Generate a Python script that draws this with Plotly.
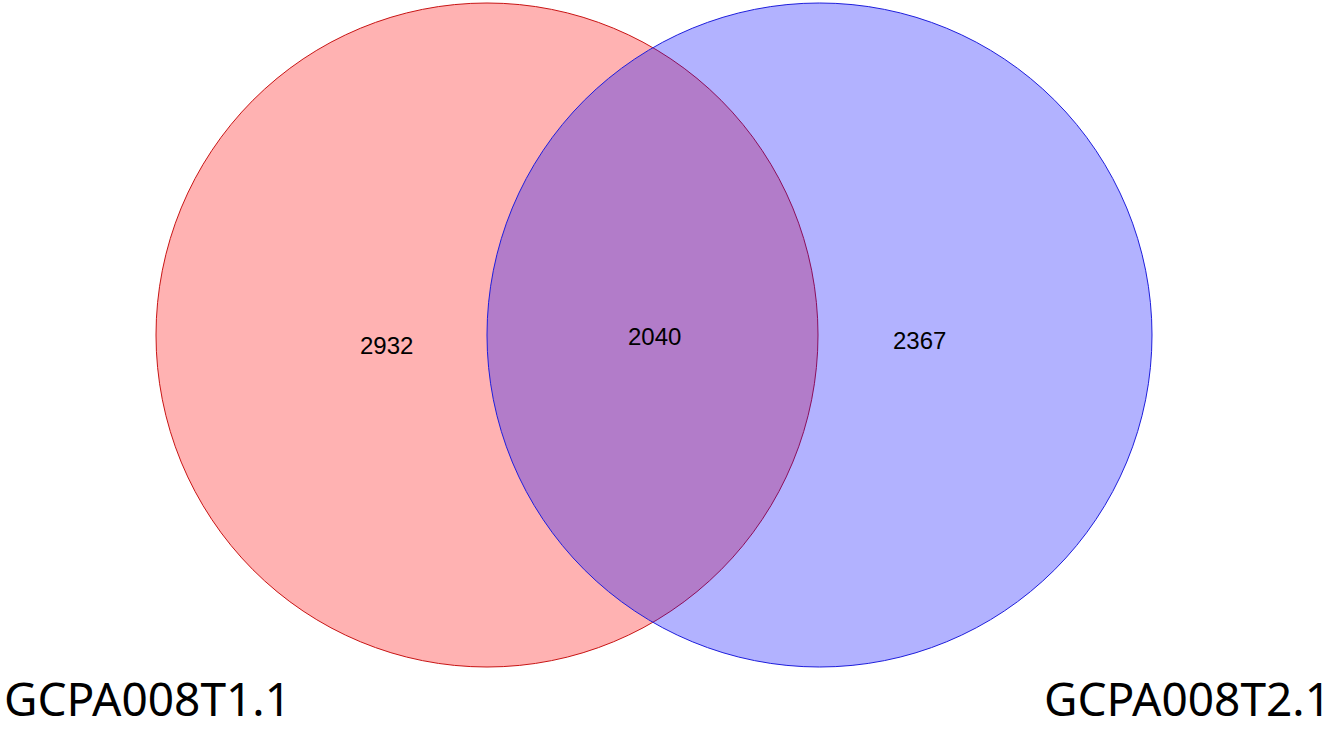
import plotly.graph_objects as go

# Data
set_names = ["GCPA008T1.1", "GCPA008T2.1"]
region_labels = ["only_T1", "both", "only_T2"]
region_counts = [2932, 2040, 2367]

# Layout geometry (pixel coordinates)
W, H = 1334, 730
circles = [
    dict(x0=156, x1=818, y0=3, y1=667, fill="rgba(255,0,0,0.3)", line="rgba(200,20,20,1)"),
    dict(x0=487, x1=1152, y0=3, y1=667, fill="rgba(0,0,255,0.3)", line="rgba(30,30,220,1)"),
]
count_pos = [(386, 345), (654, 336), (919, 340)]
name_pos = [(3, H, "left"), (W - 2, H, "right")]

fig = go.Figure()
fig.add_trace(go.Scatter(x=[0, W], y=[0, H], mode="markers", marker=dict(opacity=0), hoverinfo="skip", showlegend=False))

for c in circles:
    fig.add_shape(type="circle", xref="x", yref="y", x0=c["x0"], x1=c["x1"], y0=c["y0"], y1=c["y1"],
                  fillcolor=c["fill"], line=dict(color=c["line"], width=1), layer="above")

for (x, y), n in zip(count_pos, region_counts):
    fig.add_annotation(x=x, y=y, xref="x", yref="y", text=str(n), showarrow=False,
                       font=dict(family="Liberation Sans, Arial", size=24, color="black"))

for (x, y, anc), name in zip(name_pos, set_names):
    fig.add_annotation(x=x, y=y, xref="x", yref="y", text=name, showarrow=False,
                       xanchor=anc, yanchor="bottom", borderpad=0,
                       font=dict(family="Noto Sans, Open Sans", size=46, color="black"))

fig.update_layout(
    width=W, height=H, margin=dict(l=0, r=0, t=0, b=0),
    paper_bgcolor="white", plot_bgcolor="white",
    xaxis=dict(range=[0, W], visible=False, fixedrange=True),
    yaxis=dict(range=[H, 0], visible=False, fixedrange=True),
    showlegend=False,
)
fig.write_html("out.html", config={"displayModeBar": False},
               post_script="document.body.style.margin='0px';document.body.style.overflow='hidden';")
